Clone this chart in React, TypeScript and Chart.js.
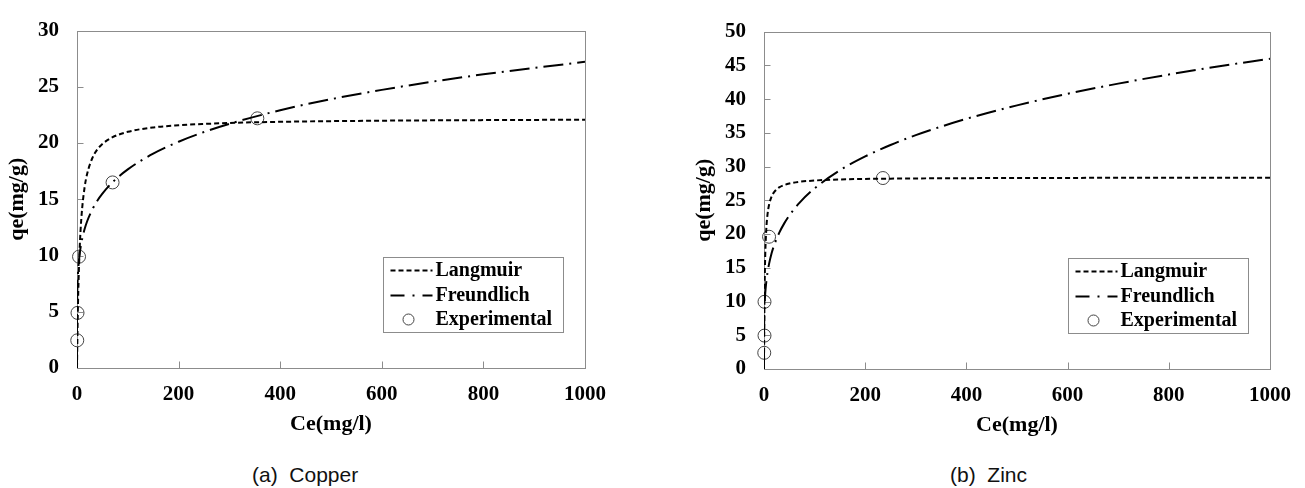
import React, { useEffect, useRef } from "react";
import { Chart, registerables } from "chart.js";

Chart.register(...registerables);

// Ce (mg/l) sample positions
const CE_CURVE = [0, 0.01, 0.1, 0.5, 1, 2, 3, 5, 7, 10, 15, 20, 30, 40, 50, 70, 100, 150, 200, 250, 300, 400, 500, 600, 700, 800, 900, 1000];

// Copper
const COPPER_LANGMUIR = [0, 0.04, 0.38, 1.79, 3.31, 5.76, 7.64, 10.36, 12.22, 14.13, 16.08, 17.27, 18.65, 19.43, 19.92, 20.52, 21.0, 21.39, 21.58, 21.7, 21.79, 21.89, 21.95, 21.99, 22.02, 22.04, 22.06, 22.07];
const COPPER_FREUNDLICH = [0, 3.13, 4.82, 6.52, 7.43, 8.46, 9.13, 10.06, 10.71, 11.45, 12.36, 13.05, 14.08, 14.87, 15.5, 16.52, 17.66, 19.06, 20.12, 20.98, 21.71, 22.92, 23.9, 24.73, 25.46, 26.11, 26.69, 27.22];
const COPPER_EXP_CE = [0.5, 1, 4, 70, 355];
const COPPER_EXP_QE = [2.46, 4.9, 9.9, 16.5, 22.2];

// Zinc
const ZINC_LANGMUIR = [0, 0.17, 1.61, 6.55, 10.65, 15.49, 18.26, 21.3, 22.94, 24.34, 25.56, 26.22, 26.91, 27.26, 27.48, 27.74, 27.93, 28.09, 28.17, 28.21, 28.24, 28.28, 28.31, 28.32, 28.33, 28.34, 28.35, 28.35];
const ZINC_FREUNDLICH = [0, 3.07, 5.28, 7.71, 9.07, 10.67, 11.74, 13.24, 14.33, 15.58, 17.14, 18.34, 20.17, 21.58, 22.74, 24.62, 26.77, 29.44, 31.5, 33.2, 34.65, 37.07, 39.07, 40.78, 42.29, 43.64, 44.86, 45.98];
const ZINC_EXP_CE = [0.5, 1, 1, 10, 235];
const ZINC_EXP_QE = [2.4, 4.95, 9.96, 19.6, 28.3];

const SERIES_LABELS = ["Langmuir", "Freundlich", "Experimental"];
const X_TITLE = "Ce(mg/l)";
const Y_TITLE = "qe(mg/g)";
const CAPTIONS = ["(a)  Copper", "(b)  Zinc"];

const SERIF = "'Liberation Serif', 'Times New Roman', serif";
const SANS = "'Liberation Sans', Arial, sans-serif";
const FRAME = "#8c8c8c";

Chart.defaults.font.family = SERIF;

const toPoints = (xs: number[], ys: number[]) => xs.map((x, i) => ({ x, y: ys[i] }));

const framePlugin = {
  id: "frameTicksLegend",
  beforeDatasetsDraw(chart: any) {
    const { ctx, chartArea: a, scales } = chart;
    ctx.save();
    ctx.strokeStyle = FRAME;
    ctx.lineWidth = 1;
    const l = Math.round(a.left) + 0.5;
    const t = Math.round(a.top) + 0.5;
    const r = Math.round(a.right) + 0.5;
    const b = Math.round(a.bottom) + 0.5;
    ctx.strokeRect(l, t, r - l, b - t);
    ctx.beginPath();
    scales.x.ticks.forEach((tk: any) => {
      const px = Math.round(scales.x.getPixelForValue(tk.value)) + 0.5;
      ctx.moveTo(px, b);
      ctx.lineTo(px, b - 7);
    });
    scales.y.ticks.forEach((tk: any) => {
      const py = Math.round(scales.y.getPixelForValue(tk.value)) + 0.5;
      ctx.moveTo(l, py);
      ctx.lineTo(l + 6, py);
    });
    ctx.stroke();
    ctx.restore();
  },
  afterDraw(chart: any) {
    const { ctx, chartArea: a } = chart;
    const ds = chart.data.datasets;
    const w = 180;
    const h = 75;
    const bx = Math.round(a.right - 202) + 0.5;
    const by = Math.round(a.bottom - 36 - h) + 0.5;
    ctx.save();
    ctx.fillStyle = "#fff";
    ctx.fillRect(bx, by, w, h);
    ctx.strokeStyle = FRAME;
    ctx.lineWidth = 1;
    ctx.strokeRect(bx, by, w, h);
    const rows = [13, 38, 62];
    ctx.strokeStyle = "#000";
    ctx.lineWidth = 2;
    ctx.setLineDash([5, 3]);
    ctx.beginPath();
    ctx.moveTo(bx + 7, by + rows[0]);
    ctx.lineTo(bx + 49, by + rows[0]);
    ctx.stroke();
    ctx.setLineDash([14, 8, 2, 8]);
    ctx.beginPath();
    ctx.moveTo(bx + 7, by + rows[1]);
    ctx.lineTo(bx + 49, by + rows[1]);
    ctx.stroke();
    ctx.setLineDash([]);
    ctx.lineWidth = 1;
    ctx.strokeStyle = "#444";
    ctx.beginPath();
    ctx.arc(bx + 25, by + rows[2], 5.5, 0, Math.PI * 2);
    ctx.stroke();
    ctx.fillStyle = "#000";
    ctx.font = `bold 20px ${SERIF}`;
    ctx.textBaseline = "middle";
    ctx.textAlign = "left";
    ds.forEach((d: any, i: number) => {
      ctx.fillText(d.label, bx + 52, by + rows[i]);
    });
    ctx.restore();
  },
};

function IsothermChart(props: {
  langmuir: number[];
  freundlich: number[];
  expCe: number[];
  expQe: number[];
  yMax: number;
  padRight: number;
  width: number;
  height: number;
}) {
  const ref = useRef<HTMLCanvasElement>(null);
  useEffect(() => {
    if (!ref.current) return;
    const tickFont = { family: SERIF, size: 21, weight: "bold" as const };
    const titleFont = { family: SERIF, size: 22, weight: "bold" as const };
    const chart = new Chart(ref.current, {
      type: "line",
      data: {
        datasets: [
          {
            label: SERIES_LABELS[0],
            data: toPoints(CE_CURVE, props.langmuir),
            borderColor: "#000",
            borderWidth: 2,
            borderDash: [5, 3],
            pointRadius: 0,
            cubicInterpolationMode: "monotone",
            fill: false,
          },
          {
            label: SERIES_LABELS[1],
            data: toPoints(CE_CURVE, props.freundlich),
            borderColor: "#000",
            borderWidth: 2,
            borderDash: [20, 6, 2, 6],
            pointRadius: 0,
            cubicInterpolationMode: "monotone",
            fill: false,
          },
          {
            label: SERIES_LABELS[2],
            data: toPoints(props.expCe, props.expQe),
            showLine: false,
            pointRadius: 6.5,
            pointBorderWidth: 1,
            pointBorderColor: "#444",
            pointBackgroundColor: "rgba(0,0,0,0)",
            clip: false as any,
          },
        ],
      },
      options: {
        animation: false,
        responsive: false,
        devicePixelRatio: 1,
        layout: { padding: { top: 18, right: props.padRight, bottom: 0, left: 0 } },
        plugins: { legend: { display: false }, tooltip: { enabled: false } },
        scales: {
          x: {
            type: "linear",
            min: 0,
            max: 1000,
            ticks: {
              stepSize: 200,
              color: "#000",
              font: tickFont,
              padding: 14,
              maxRotation: 0,
              callback: (v: any) => String(v),
            },
            grid: { display: false, drawTicks: false },
            border: { display: false },
            title: { display: true, text: X_TITLE, color: "#000", font: titleFont, padding: { top: 4, bottom: 4 } },
            afterFit: (s: any) => {
              s.height = 74;
            },
          },
          y: {
            type: "linear",
            min: 0,
            max: props.yMax,
            ticks: { stepSize: 5, color: "#000", font: tickFont, padding: 18, callback: (v: any) => String(v) },
            grid: { display: false, drawTicks: false },
            border: { display: false },
            title: { display: true, text: Y_TITLE, color: "#000", font: titleFont, padding: { top: 4, bottom: 4 } },
            afterFit: (s: any) => {
              s.width = 77;
            },
          },
        },
      },
      plugins: [framePlugin],
    });
    return () => chart.destroy();
  }, []);
  return (
    <canvas
      ref={ref}
      width={props.width}
      height={props.height}
      style={{ width: props.width, height: props.height, display: "block" }}
    />
  );
}

export default function App() {
  const captionStyle: React.CSSProperties = {
    position: "absolute",
    top: 464,
    fontFamily: SANS,
    fontSize: 21,
    lineHeight: "21px",
    color: "#111",
    whiteSpace: "pre",
  };
  return (
    <div style={{ position: "absolute", left: 0, top: 0, width: 1305, height: 488, background: "#fff", overflow: "hidden" }}>
      <div style={{ position: "absolute", left: 0, top: 0 }}>
        <IsothermChart
          langmuir={COPPER_LANGMUIR}
          freundlich={COPPER_FREUNDLICH}
          expCe={COPPER_EXP_CE}
          expQe={COPPER_EXP_QE}
          yMax={30}
          padRight={55}
          width={640}
          height={442}
        />
      </div>
      <div style={{ position: "absolute", left: 687, top: 1 }}>
        <IsothermChart
          langmuir={ZINC_LANGMUIR}
          freundlich={ZINC_FREUNDLICH}
          expCe={ZINC_EXP_CE}
          expQe={ZINC_EXP_QE}
          yMax={50}
          padRight={35}
          width={618}
          height={442}
        />
      </div>
      <div style={{ ...captionStyle, left: 252 }}>{CAPTIONS[0]}</div>
      <div style={{ ...captionStyle, left: 950 }}>{CAPTIONS[1]}</div>
    </div>
  );
}
